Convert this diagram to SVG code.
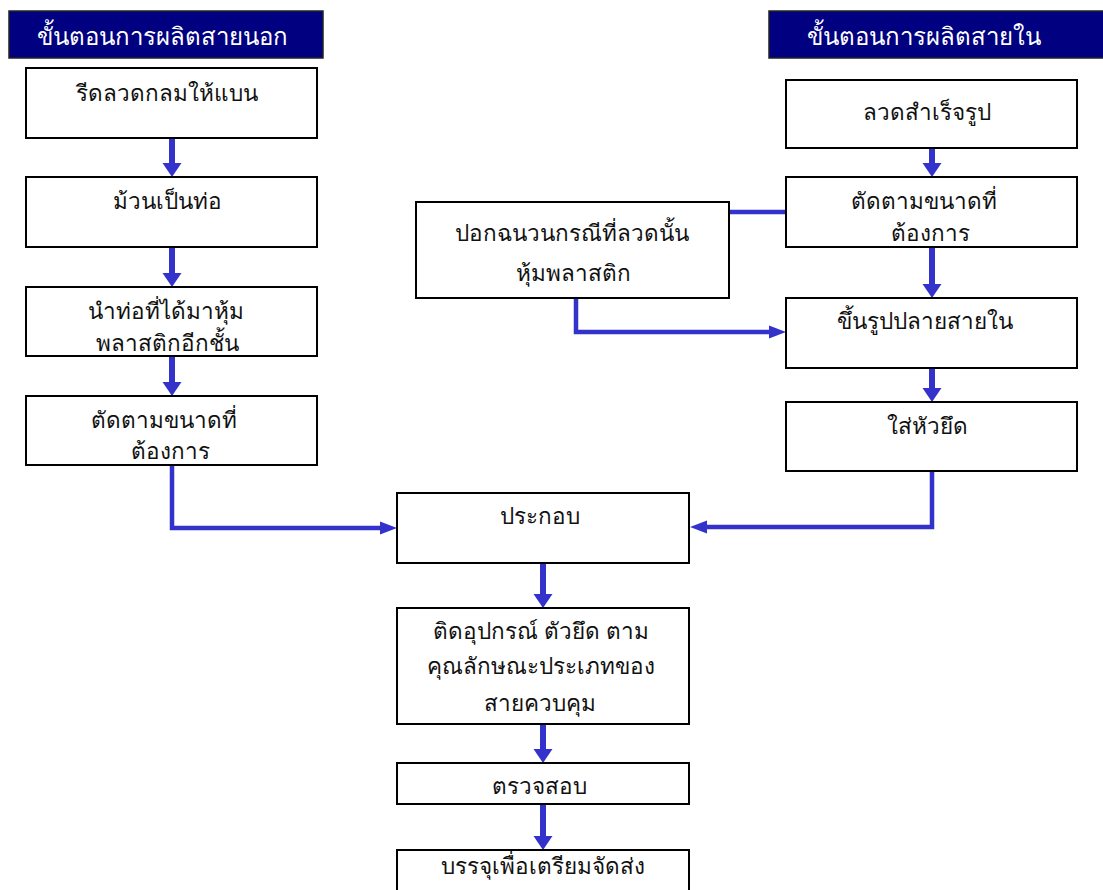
<svg xmlns="http://www.w3.org/2000/svg" width="1103" height="890" viewBox="0 0 1103 890">
<style>
.box{fill:#fff;stroke:#000;stroke-width:2}
.hdr{fill:#000080;stroke:#222;stroke-width:1.5}
.t{font-family:"Noto Sans","DejaVu Sans",sans-serif;font-size:22.5px;fill:#111;text-anchor:middle}
.ht{font-family:"Noto Sans","DejaVu Sans",sans-serif;font-size:24px;fill:#fff;text-anchor:start}
.v{stroke:#3333CC;stroke-width:6;fill:none}
.h{stroke:#3333CC;stroke-width:4.5;fill:none}
</style>
<defs>
<marker id="av" markerUnits="userSpaceOnUse" markerWidth="14" markerHeight="19" refX="0" refY="9.5" orient="auto" overflow="visible">
<path d="M0,0 L14,9.5 L0,19 Z" fill="#3333CC"/>
</marker>
<marker id="ah" markerUnits="userSpaceOnUse" markerWidth="17" markerHeight="13" refX="0" refY="6.5" orient="auto" overflow="visible">
<path d="M0,0 L17,6.5 L0,13 Z" fill="#3333CC"/>
</marker>
</defs>
<rect width="1103" height="890" fill="#fff"/>
<g id="connectors">
<path class="v" d="M172,138 V163" marker-end="url(#av)"/>
<path class="v" d="M172,247 V273" marker-end="url(#av)"/>
<path class="v" d="M172,356 V382" marker-end="url(#av)"/>
<path class="h" d="M172,465 V528 H380" marker-end="url(#ah)"/>
<path class="v" d="M932,148 V163" marker-end="url(#av)"/>
<path class="v" d="M932,247 V284" marker-end="url(#av)"/>
<path class="v" d="M932,368 V388" marker-end="url(#av)"/>
<path class="h" d="M932,471 V527 H707" marker-end="url(#ah)"/>
<path class="h" d="M729,212 H786"/>
<path class="h" d="M576,298 V332 H769" marker-end="url(#ah)"/>
<path class="v" d="M543,563 V594" marker-end="url(#av)"/>
<path class="v" d="M543,724 V749" marker-end="url(#av)"/>
<path class="v" d="M543,804 V836" marker-end="url(#av)"/>
</g>
<g id="hdr-outer"><rect class="hdr" x="9" y="11" width="314" height="47"/><text class="ht" x="37" y="45">ขั้นตอนการผลิตสายนอก</text></g>
<g id="hdr-inner"><rect class="hdr" x="769" y="11" width="340" height="47"/><text class="ht" x="807" y="45">ขั้นตอนการผลิตสายใน</text></g>
<g id="o1"><rect class="box" x="26" y="68" width="291" height="70"/><text class="t" x="167" y="101">รีดลวดกลมให้แบน</text></g>
<g id="o2"><rect class="box" x="26" y="177" width="291" height="70"/><text class="t" x="167" y="209">ม้วนเป็นท่อ</text></g>
<g id="o3"><rect class="box" x="26" y="287" width="291" height="69"/><text class="t" x="166" y="319">นำท่อที่ได้มาหุ้ม</text><text class="t" x="167" y="351">พลาสติกอีกชั้น</text></g>
<g id="o4"><rect class="box" x="26" y="396" width="291" height="69"/><text class="t" x="164" y="428">ตัดตามขนาดที่</text><text class="t" x="170" y="459">ต้องการ</text></g>
<g id="i1"><rect class="box" x="786" y="80" width="291" height="68"/><text class="t" x="927" y="120">ลวดสำเร็จรูป</text></g>
<g id="i2"><rect class="box" x="786" y="177" width="291" height="70"/><text class="t" x="924" y="209">ตัดตามขนาดที่</text><text class="t" x="930" y="241">ต้องการ</text></g>
<g id="strip"><rect class="box" x="416" y="202" width="313" height="96"/><text class="t" x="572" y="241">ปอกฉนวนกรณีที่ลวดนั้น</text><text class="t" x="573" y="281">หุ้มพลาสติก</text></g>
<g id="i3"><rect class="box" x="786" y="298" width="291" height="70"/><text class="t" x="925" y="329">ขึ้นรูปปลายสายใน</text></g>
<g id="i4"><rect class="box" x="786" y="402" width="291" height="69"/><text class="t" x="927" y="434">ใส่หัวยึด</text></g>
<g id="assemble"><rect class="box" x="397" y="493" width="292" height="70"/><text class="t" x="540" y="524">ประกอบ</text></g>
<g id="fit"><rect class="box" x="397" y="608" width="292" height="116"/><text class="t" x="541" y="639">ติดอุปกรณ์ ตัวยึด ตาม</text><text class="t" x="541" y="674">คุณลักษณะประเภทของ</text><text class="t" x="540" y="711">สายควบคุม</text></g>
<g id="inspect"><rect class="box" x="397" y="763" width="292" height="41"/><text class="t" x="539" y="794">ตรวจสอบ</text></g>
<g id="pack"><rect class="box" x="397" y="850" width="292" height="60"/><text class="t" x="543" y="874">บรรจุเพื่อเตรียมจัดส่ง</text></g>
</svg>
